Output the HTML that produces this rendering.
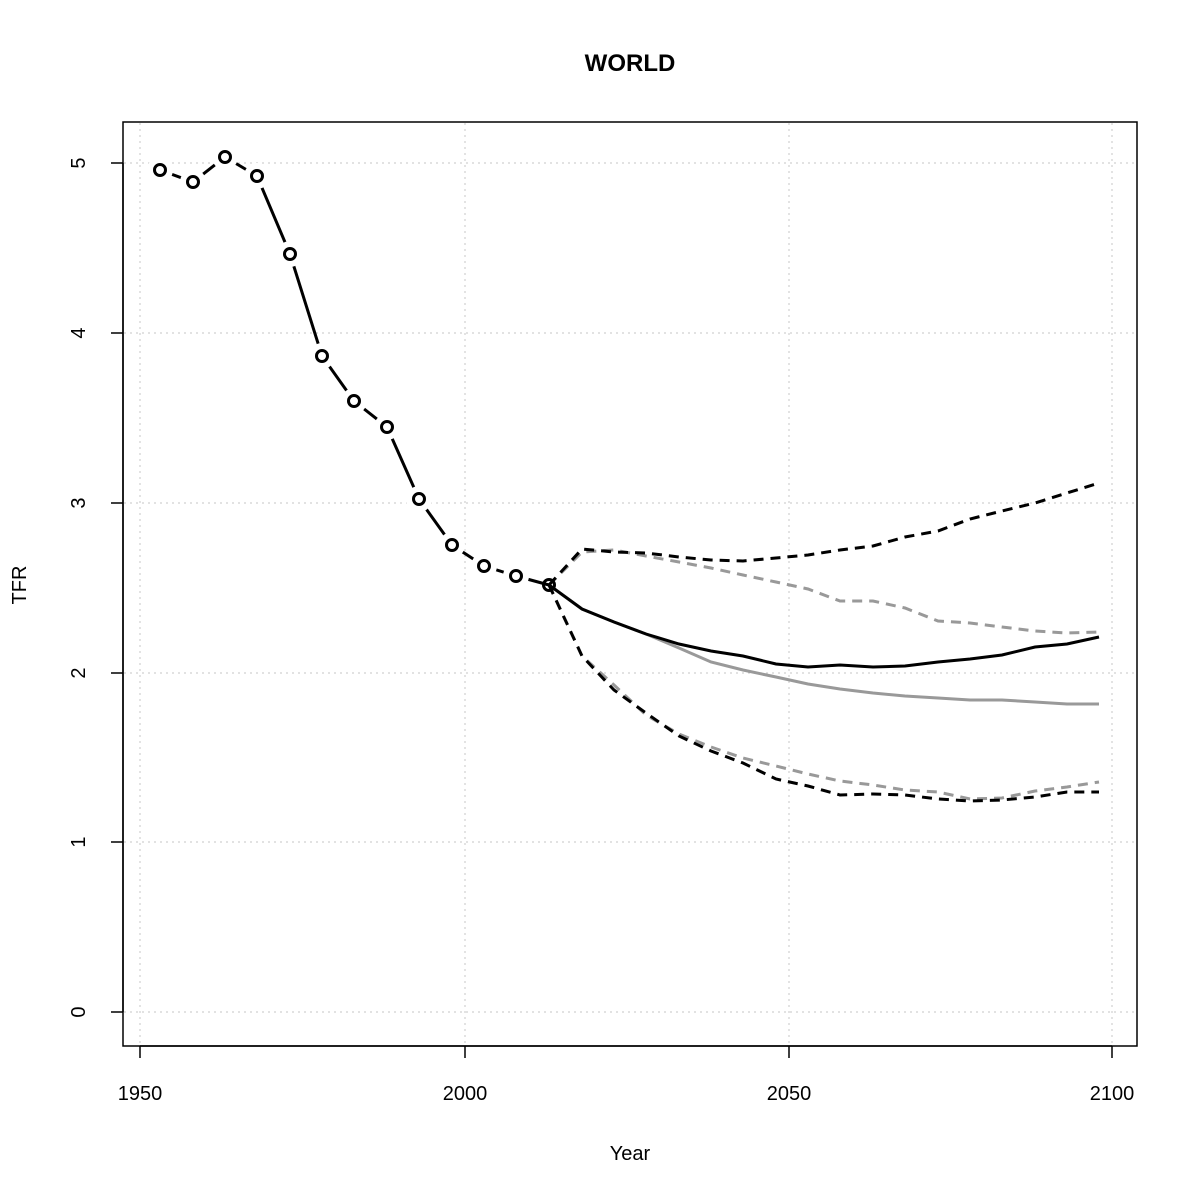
<!DOCTYPE html>
<html><head><style>body{margin:0;background:#fff}svg{display:block}text{font-family:"Liberation Sans",sans-serif}</style></head><body>
<svg width="1200" height="1200" viewBox="0 0 1200 1200">
<g stroke="#d0d0d0" stroke-width="1.2" stroke-dasharray="2,4">
<line x1="140" y1="123" x2="140" y2="1045"/><line x1="465" y1="123" x2="465" y2="1045"/><line x1="789" y1="123" x2="789" y2="1045"/><line x1="1112" y1="123" x2="1112" y2="1045"/>
<line x1="124" y1="1012" x2="1136" y2="1012"/><line x1="124" y1="842" x2="1136" y2="842"/><line x1="124" y1="673" x2="1136" y2="673"/><line x1="124" y1="503" x2="1136" y2="503"/><line x1="124" y1="333" x2="1136" y2="333"/><line x1="124" y1="163" x2="1136" y2="163"/>
</g>
<rect x="123" y="122" width="1014" height="924" fill="none" stroke="#000" stroke-width="1.5"/>
<g stroke="#000" stroke-width="1.5">
<line x1="140" y1="1046" x2="1112" y2="1046"/>
<line x1="140" y1="1046" x2="140" y2="1058"/><line x1="465" y1="1046" x2="465" y2="1058"/><line x1="789" y1="1046" x2="789" y2="1058"/><line x1="1112" y1="1046" x2="1112" y2="1058"/>
<line x1="123" y1="163" x2="123" y2="1012"/>
<line x1="111" y1="1012" x2="123" y2="1012"/><line x1="111" y1="842" x2="123" y2="842"/><line x1="111" y1="673" x2="123" y2="673"/><line x1="111" y1="503" x2="123" y2="503"/><line x1="111" y1="333" x2="123" y2="333"/><line x1="111" y1="163" x2="123" y2="163"/>
</g>
<g font-size="20" text-anchor="middle">
<text x="140" y="1100">1950</text><text x="465" y="1100">2000</text><text x="789" y="1100">2050</text><text x="1112" y="1100">2100</text>
<text transform="translate(85,1012) rotate(-90)">0</text><text transform="translate(85,842) rotate(-90)">1</text><text transform="translate(85,673) rotate(-90)">2</text><text transform="translate(85,503) rotate(-90)">3</text><text transform="translate(85,333) rotate(-90)">4</text><text transform="translate(85,163) rotate(-90)">5</text>
<text x="630" y="1160">Year</text>
<text transform="translate(26,585) rotate(-90)">TFR</text>
<text x="630" y="71" font-size="24" font-weight="bold">WORLD</text>
</g>
<g fill="none" stroke-width="3">
<polyline stroke="#999" points="549,585 582,609 614,622 646,634 679,648 711,662 743,670 776,677 808,684 840,689 873,693 905,696 938,698 970,700 1002,700 1035,702 1067,704 1099,704"/>
<polyline stroke="#999" stroke-dasharray="10,7" points="549,585 582,552 614,550 646,556 679,562 711,568 743,575 776,582 808,589 840,601 873,601 905,608 938,621 970,623 1002,627 1035,631 1067,633 1099,632"/>
<polyline stroke="#999" stroke-dasharray="10,7" points="549,585 582,656 614,685 646,715 679,734 711,747 743,758 776,766 808,774 840,781 873,785 905,790 938,792 970,799 1002,798 1035,791 1067,787 1099,782"/>
<polyline stroke="#000" points="549,585 582,609 614,622 646,634 679,644 711,651 743,656 776,664 808,667 840,665 873,667 905,666 938,662 970,659 1002,655 1035,647 1067,644 1099,637"/>
<polyline stroke="#000" stroke-dasharray="10,7" points="549,585 582,549 614,552 646,553 679,557 711,560 743,561 776,558 808,555 840,550 873,546 905,537 938,531 970,519 1002,511 1035,503 1067,493 1099,483"/>
<polyline stroke="#000" stroke-dasharray="10,7" points="549,585 582,656 614,690 646,713 679,736 711,751 743,763 776,779 808,786 840,795 873,794 905,795 938,799 970,801 1002,800 1035,797 1067,792 1099,792"/>
<polyline stroke="#000" points="160,170 193,182 225,157 257,176 290,254 322,356 354,401 387,427 419,499 452,545 484,566 516,576 549,585"/>
</g>
<g fill="#fff" stroke="none">
<circle cx="160" cy="170" r="13"/><circle cx="193" cy="182" r="13"/><circle cx="225" cy="157" r="13"/><circle cx="257" cy="176" r="13"/><circle cx="290" cy="254" r="13"/><circle cx="322" cy="356" r="13"/><circle cx="354" cy="401" r="13"/><circle cx="387" cy="427" r="13"/><circle cx="419" cy="499" r="13"/><circle cx="452" cy="545" r="13"/><circle cx="484" cy="566" r="13"/><circle cx="516" cy="576" r="13"/>
</g>
<g fill="none" stroke="#000" stroke-width="3">
<circle cx="160" cy="170" r="5.5"/><circle cx="193" cy="182" r="5.5"/><circle cx="225" cy="157" r="5.5"/><circle cx="257" cy="176" r="5.5"/><circle cx="290" cy="254" r="5.5"/><circle cx="322" cy="356" r="5.5"/><circle cx="354" cy="401" r="5.5"/><circle cx="387" cy="427" r="5.5"/><circle cx="419" cy="499" r="5.5"/><circle cx="452" cy="545" r="5.5"/><circle cx="484" cy="566" r="5.5"/><circle cx="516" cy="576" r="5.5"/><circle cx="549" cy="585" r="5.5"/>
</g>
</svg>
</body></html>
